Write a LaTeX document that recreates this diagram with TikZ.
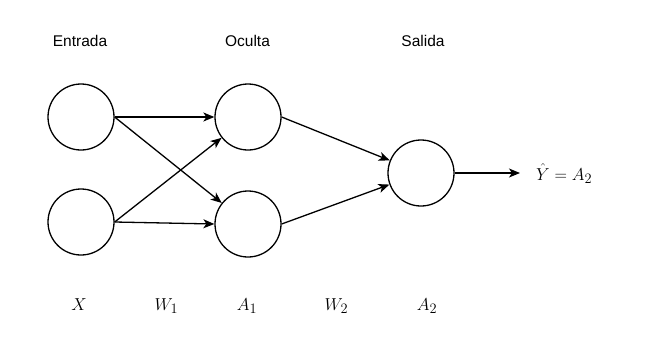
\documentclass[tikz,border=0pt]{standalone}
\usepackage{fontspec}
\setsansfont{Liberation Sans}
\usetikzlibrary{arrows.meta}

\begin{document}
\begin{tikzpicture}[x=1pt, y=-1pt,
  neuron/.style={draw, circle, line width=1.3pt, minimum size=66pt, inner sep=0pt},
  link/.style={-{Stealth[length=11pt, width=9pt, inset=3pt]}, line width=1.3pt},
  layer/.style={font=\sffamily\fontsize{15.5}{18}\selectfont},
  sym/.style={font=\fontsize{19}{22}\selectfont, anchor=base, inner sep=0pt}]
  \useasboundingbox (0,0) rectangle (650,338);
  % layer titles
  \node[layer] (tin) at (80,41) {Entrada};
  \node[layer] (thid) at (247.5,41) {Oculta};
  \node[layer] (tout) at (423,41) {Salida};
  % neurons
  \node[neuron] (i1) at (81,117) {};
  \node[neuron] (i2) at (81,222) {};
  \node[neuron] (h1) at (248,117) {};
  \node[neuron] (h2) at (248,224) {};
  \node[neuron] (o) at (421,173) {};
  \coordinate (yhat) at (520,173);
  % weights
  \draw[link] (i1.east) -- (h1.west);
  \draw[link] (i1.east) -- (h2);
  \draw[link] (i2.east) -- (h1);
  \draw[link] (i2.east) -- (h2.west);
  \draw[link] (h1.east) -- (o);
  \draw[link] (h2.east) -- (o);
  \draw[link] (o.east) -- (yhat);
  \node[sym, anchor=base west] (lyhat) at (536,180) {$\hat{Y} = A_2$};
  % symbols under the layers
  \node[sym] (lx) at (79,310) {$X$};
  \node[sym] (lw1) at (166.5,310) {$W_1$};
  \node[sym] (la1) at (247,310) {$A_1$};
  \node[sym] (lw2) at (336.5,310) {$W_2$};
  \node[sym] (la2) at (427,310) {$A_2$};
\end{tikzpicture}
\end{document}
